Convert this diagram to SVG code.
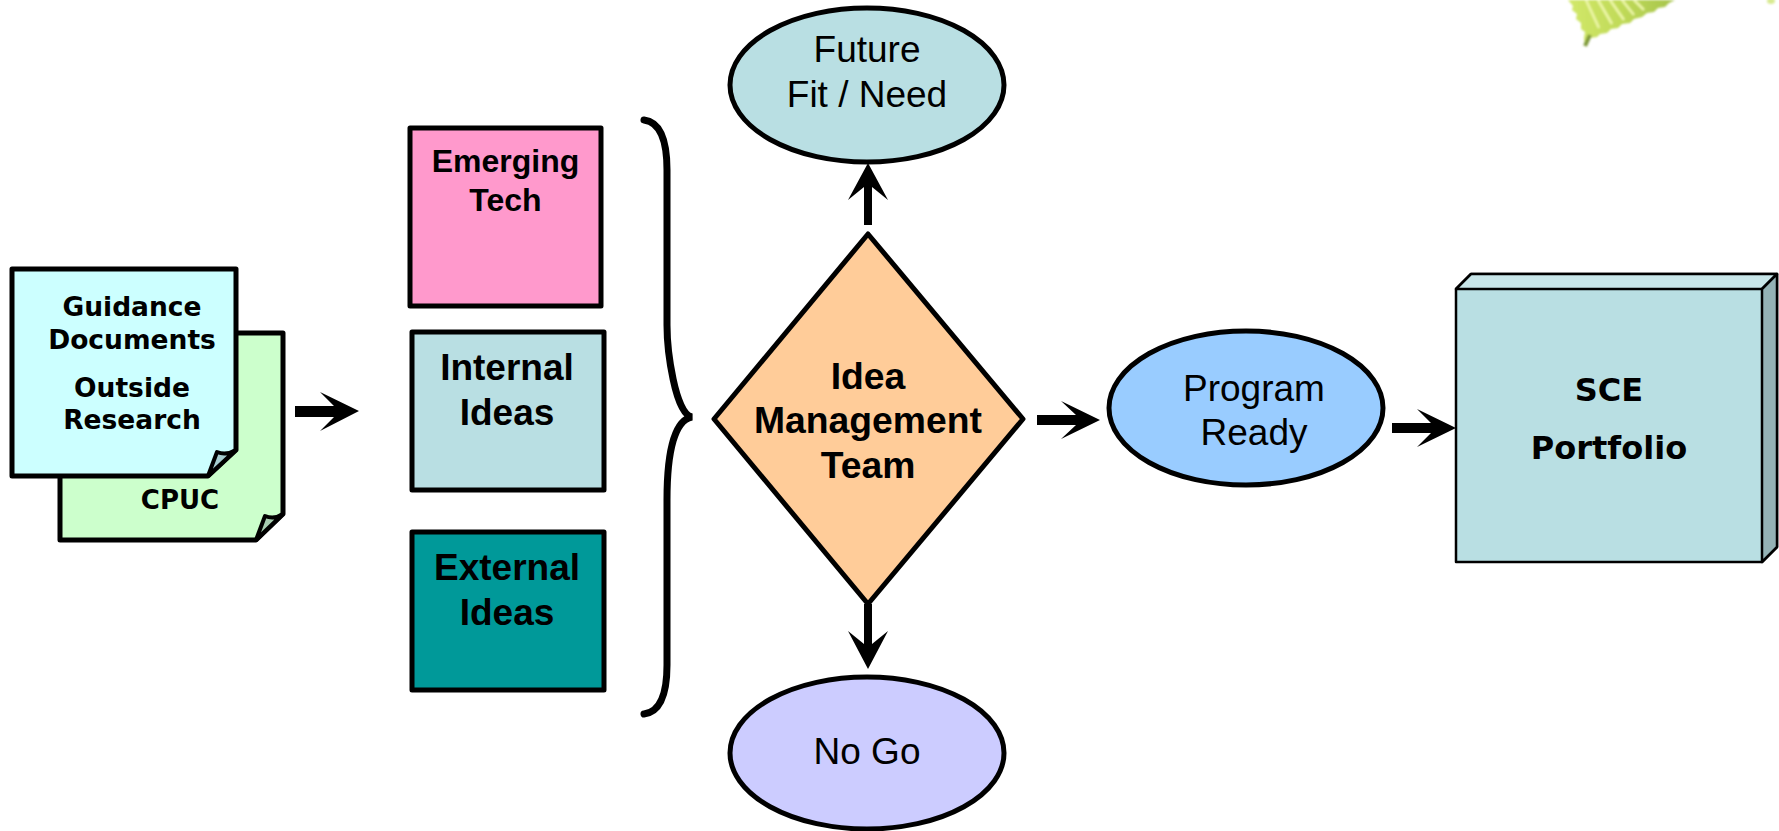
<svg xmlns="http://www.w3.org/2000/svg" width="1779" height="831" viewBox="0 0 1779 831">
<style>
.s{stroke:#000;stroke-width:5;stroke-linejoin:round}
.a{font-family:"Liberation Sans",Arial,sans-serif;text-anchor:middle;fill:#000}
.b{font-weight:700}
.v{font-family:"DejaVu Sans",Verdana,sans-serif;font-weight:700;text-anchor:middle;fill:#000}
.ar{fill:#000;stroke:none}
.vein{stroke:#eef7a8;stroke-width:2.5;fill:none}
</style>
<defs>
<filter id="bl" x="-10%" y="-10%" width="120%" height="120%"><feGaussianBlur stdDeviation="0.8"/></filter>
<linearGradient id="lf" x1="0" y1="0" x2="1" y2="0"><stop offset="0" stop-color="#d2e86a"/><stop offset="0.5" stop-color="#c0da58"/><stop offset="1" stop-color="#a6c44c"/></linearGradient>
</defs>
<rect width="1779" height="831" fill="#fff"/>
<g id="leaf" filter="url(#bl)">
<path d="M1568 0L1573 6L1572 10L1577 14L1576 19L1581 23L1581 29L1585 32L1584 38L1585 46L1590 38L1597 37L1600 34L1607 33L1611 29L1618 28L1622 24L1630 23L1634 19L1642 17L1647 13L1654 12L1658 8L1665 7L1669 3L1675 0Z" fill="url(#lf)"/>
<path class="vein" d="M1598 0L1612 24M1610 0L1624 20M1622 0L1634 15M1634 0L1644 10M1586 0L1599 28"/>
<path d="M1585 46L1590 35" stroke="#7f9a3a" stroke-width="4" fill="none"/>
<ellipse cx="1771" cy="1" rx="4" ry="3" fill="#d8ea90"/>
</g>
<g id="doc-cpuc">
<path class="s" d="M60 333H283V514L256 540H60Z" fill="#ccffcc"/>
<path d="M256 540L265 516Q274 520 283 514Z" fill="#a6cdb0" stroke="#000" stroke-width="4" stroke-linejoin="round"/>
<text class="v" x="180" y="509" font-size="26">CPUC</text>
</g>
<g id="doc-guidance">
<path class="s" d="M12 269H236V450L208 476H12Z" fill="#ccffff"/>
<path d="M208 476L217 452Q226 456 236 450Z" fill="#a6cdd0" stroke="#000" stroke-width="4" stroke-linejoin="round"/>
<text class="v" x="132" y="316" font-size="26.5">Guidance</text>
<text class="v" x="132" y="349" font-size="26.5">Documents</text>
<text class="v" x="132" y="397" font-size="26.5">Outside</text>
<text class="v" x="132" y="429" font-size="26.5">Research</text>
</g>
<g id="emerging-tech">
<rect class="s" x="410" y="128" width="191" height="178" fill="#ff99cc"/>
<text class="a b" x="505.500" y="172" font-size="32">Emerging</text>
<text class="a b" x="505.500" y="211" font-size="32">Tech</text>
</g>
<g id="internal-ideas">
<rect class="s" x="412" y="332" width="192" height="158" fill="#b9dfe3"/>
<text class="a b" x="507" y="380" font-size="37">Internal</text>
<text class="a b" x="507" y="425" font-size="37">Ideas</text>
</g>
<g id="external-ideas">
<rect class="s" x="412" y="532" width="192" height="158" fill="#009999"/>
<text class="a b" x="507" y="580" font-size="37">External</text>
<text class="a b" x="507" y="625" font-size="37">Ideas</text>
</g>
<g id="brace">
<path d="M644 120C660 122 667 140 667 170V325C667 350 675 414 692 417C675 420 667 450 667 500V665C667 695 660 712 644 714" fill="none" stroke="#000" stroke-width="7" stroke-linecap="round"/>
</g>
<g id="idea-management-team">
<path class="s" d="M868 234L1023 419L868 604L714 419Z" fill="#ffcc99"/>
<text class="a b" x="868" y="389" font-size="37.300">Idea</text>
<text class="a b" x="868" y="433" font-size="37.300">Management</text>
<text class="a b" x="868" y="478" font-size="37.300">Team</text>
</g>
<g id="future-fit">
<ellipse class="s" cx="867" cy="85" rx="137" ry="77" fill="#b9dfe3"/>
<text class="a" x="867" y="62" font-size="37">Future</text>
<text class="a" x="867" y="107" font-size="37">Fit / Need</text>
</g>
<g id="no-go">
<ellipse class="s" cx="867" cy="753" rx="137" ry="76" fill="#ccccff"/>
<text class="a" x="867" y="764" font-size="37">No Go</text>
</g>
<g id="program-ready">
<ellipse class="s" cx="1246" cy="408" rx="137" ry="77" fill="#99ccff"/>
<text class="a" x="1254" y="401" font-size="37">Program</text>
<text class="a" x="1254" y="445" font-size="37">Ready</text>
</g>
<g id="sce-portfolio">
<path d="M1456 289L1471 274H1777V547L1762 562H1456Z" fill="#b9dfe3" stroke="#000" stroke-width="2.5" stroke-linejoin="round"/>
<path d="M1456 289L1471 274H1777L1762 289Z" fill="#c8e6e9" stroke="#000" stroke-width="2.5" stroke-linejoin="round"/>
<path d="M1762 289L1777 274V547L1762 562Z" fill="#94b2b5" stroke="#000" stroke-width="2.5" stroke-linejoin="round"/>
<text class="v" x="1609" y="401" font-size="32">SCE</text>
<text class="v" x="1609" y="459" font-size="32">Portfolio</text>
</g>
<g id="connectors">
<path class="ar" d="M295 406H334L320 392L359 411L320 431L334 417H295Z"/>
<path class="ar" d="M864 225V187L848 200L868 163L888 200L872 187V225Z"/>
<path class="ar" d="M864 604V644L848 631L868 669L888 631L872 644V604Z"/>
<path class="ar" d="M1037 415H1076L1061 401L1100 420L1061 439L1076 425H1037Z"/>
<path class="ar" d="M1392 423H1431L1417 409L1456 428L1417 447L1431 433H1392Z"/>
</g>
</svg>
